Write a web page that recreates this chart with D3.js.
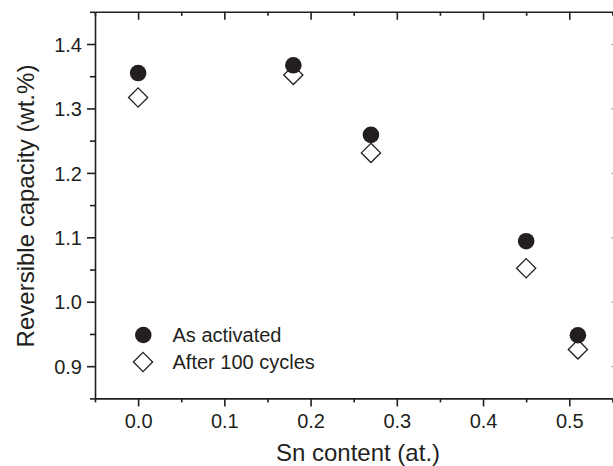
<!DOCTYPE html>
<html>
<head>
<meta charset="utf-8">
<script src="https://cdn.jsdelivr.net/npm/d3@7"></script>
<style>
  html, body { margin: 0; padding: 0; background: #fff; }
  svg { display: block; font-family: "Liberation Sans", Arial, sans-serif; }
</style>
</head>
<body>
<svg id="chart" width="613" height="466"></svg>
<script>
// ---- data ----
const snContent   = [0.0, 0.18, 0.27, 0.45, 0.51];
const asActivated = [1.355, 1.367, 1.259, 1.094, 0.948];
const after100    = [1.317, 1.352, 1.231, 1.052, 0.926];
const seriesNames = ["As activated", "After 100 cycles"];
const xMajorTicks = [0.0, 0.1, 0.2, 0.3, 0.4, 0.5];
const xMinorTicks = [-0.05, 0.05, 0.15, 0.25, 0.35, 0.45, 0.55];
const yMajorTicks = [0.9, 1.0, 1.1, 1.2, 1.3, 1.4];
const yMinorTicks = [0.85, 0.95, 1.05, 1.15, 1.25, 1.35, 1.45];
const xTitle = "Sn content (at.)";
const yTitle = "Reversible capacity (wt.%)";

(function () {
const ink = "#231f20";
const svg = d3.select("#chart");

const pL = 95, pR = 612.4, pT = 11.8, pB = 398.4;
const x = d3.scaleLinear().domain([-0.05, 0.55]).range([pL, pR]);
const y = d3.scaleLinear().domain([0.85, 1.45]).range([pB, pT]);

function styleAxis(g) {
  g.selectAll("path.domain").attr("stroke", ink).attr("stroke-width", 1.6);
  g.selectAll(".tick line").attr("stroke", ink).attr("stroke-width", 1.6);
  g.selectAll(".tick text").attr("fill", ink).attr("font-size", 20)
    .attr("font-family", "Liberation Sans, Arial, sans-serif");
}

// bottom axis
const gB = svg.append("g").attr("transform", `translate(0,${pB})`);
gB.call(d3.axisBottom(x).tickValues(xMinorTicks).tickSize(4).tickFormat("").tickSizeOuter(0));
gB.append("g").call(d3.axisBottom(x).tickValues(xMajorTicks).tickSize(8).tickFormat(d3.format(".1f")).tickSizeOuter(0))
  .select("path.domain").remove();
styleAxis(gB);
gB.selectAll(".tick text").attr("dy", null).attr("y", 30);

// top axis (ticks inward)
const gT = svg.append("g").attr("transform", `translate(0,${pT})`);
gT.call(d3.axisBottom(x).tickValues(xMinorTicks).tickSize(4).tickFormat("").tickSizeOuter(0));
gT.append("g").call(d3.axisBottom(x).tickValues(xMajorTicks).tickSize(8).tickFormat("").tickSizeOuter(0))
  .select("path.domain").remove();
styleAxis(gT);

// left axis
const gL = svg.append("g").attr("transform", `translate(${pL},0)`);
gL.call(d3.axisLeft(y).tickValues(yMinorTicks).tickSize(5).tickFormat("").tickSizeOuter(0));
gL.append("g").call(d3.axisLeft(y).tickValues(yMajorTicks).tickSize(8).tickFormat(d3.format(".1f")).tickPadding(5).tickSizeOuter(0))
  .select("path.domain").remove();
styleAxis(gL);
gL.selectAll(".tick text").attr("dy", "0.36em");

// right axis (mostly off canvas, ticks inward)
const gR = svg.append("g").attr("transform", `translate(${pR + 1.8},0)`);
gR.call(d3.axisLeft(y).tickValues(yMajorTicks).tickSize(0).tickFormat("").tickSizeOuter(0));
gR.selectAll(".tick line").attr("x2", -3).attr("stroke", "#aaa").attr("stroke-width", 1.2);
gR.select("path.domain").attr("stroke", ink).attr("stroke-width", 1.6);

// axis titles
svg.append("text").attr("x", 358).attr("y", 460.5).attr("text-anchor", "middle")
  .attr("font-size", 24).attr("fill", ink).text(xTitle);
svg.append("text").attr("transform", "translate(33.5,206) rotate(-90)").attr("text-anchor", "middle")
  .attr("font-size", 24).attr("fill", ink).text(yTitle);

// markers
const diamond = s => `M0,${-s}L${s},0L0,${s}L${-s},0Z`;
const data = snContent.map((d, i) => ({ x: d, a: asActivated[i], b: after100[i] }));

svg.append("g").selectAll("path").data(data).join("path")
  .attr("transform", d => `translate(${x(d.x)},${y(d.b)})`)
  .attr("d", diamond(9.6)).attr("fill", "#fff").attr("stroke", ink).attr("stroke-width", 1.3);

svg.append("g").selectAll("circle").data(data).join("circle")
  .attr("cx", d => x(d.x)).attr("cy", d => y(d.a)).attr("r", 8.3).attr("fill", ink);

// legend
const lg = svg.append("g");
lg.append("circle").attr("cx", 143.3).attr("cy", 335).attr("r", 8.3).attr("fill", ink);
lg.append("path").attr("transform", "translate(143,362)").attr("d", diamond(9.6))
  .attr("fill", "#fff").attr("stroke", ink).attr("stroke-width", 1.3);
lg.append("text").attr("x", 172.5).attr("y", 342.2).attr("font-size", 20).attr("fill", ink).text(seriesNames[0]);
lg.append("text").attr("x", 172.5).attr("y", 369.2).attr("font-size", 20).attr("fill", ink).text(seriesNames[1]);
})();
</script>
</body>
</html>
